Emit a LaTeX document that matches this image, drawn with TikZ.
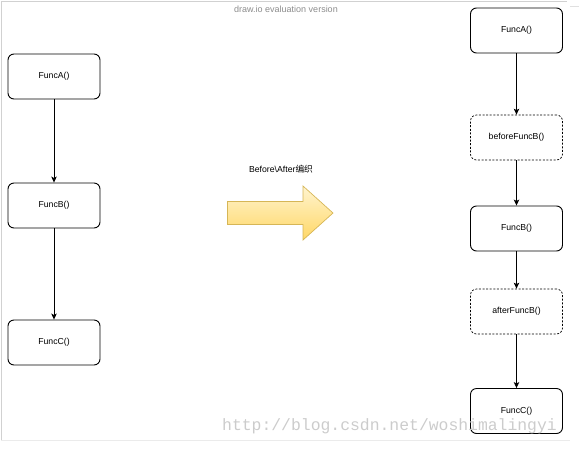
\documentclass[tikz,border=0pt]{standalone}
\usepackage{fontspec}
\setmainfont{Liberation Sans}
\newfontfamily\cjk{Noto Sans CJK SC}
\newfontfamily\wmfont{Liberation Mono}
\usetikzlibrary{arrows.meta}
\definecolor{arrowtop}{HTML}{FFF4CF}
\definecolor{arrowbot}{HTML}{FFD766}
\definecolor{arrowline}{HTML}{D6B656}

\begin{document}
\begin{tikzpicture}[x=1pt, y=-1pt,
    func/.style={draw, line width=0.9pt, rounded corners=6pt, minimum width=92pt, minimum height=45pt, font=\fontsize{8.7}{10}\selectfont},
    weave/.style={func, line width=0.7pt, dash pattern=on 2pt off 1.6pt},
    flow/.style={line width=0.8pt, -{Stealth[length=6pt, width=5.5pt, inset=1.5pt]}}]
    \useasboundingbox (0,0) rectangle (579,448);
    % frame of the page
    \draw[black!18] (1,440) -- (1,1.5) -- (567,1.5);
    \draw[black!12] (570,6) -- (579,6);
    \draw[black!8] (1,440) -- (570,440);
    \node[text=black!45, font=\fontsize{9}{10}\selectfont] (title) at (286,9.5) {draw.io evaluation version};
    % before weaving
    \node[func] (la) at (54,76.5) {FuncA()};
    \node[func] (lb) at (54,205.5) {FuncB()};
    \node[func] (lc) at (54,342.5) {FuncC()};
    \draw[flow] (la)--(lb);
    \draw[flow] (lb)--(lc);
    % weaving arrow
    \node[font=\fontsize{8.7}{10}\selectfont] (label) at (281,169) {Before\textbackslash After{\cjk 编织}};
    \draw[arrowline, line width=0.7pt, top color=arrowtop, bottom color=arrowbot]
      (227.5,201.5) -- (303,201.5) -- (303,186) -- (333,213) -- (303,240) -- (303,224.5) -- (227.5,224.5) -- cycle;
    % after weaving
    \node[func] (ra) at (516.5,30.5) {FuncA()};
    \node[weave] (rbefore) at (516.5,137.5) {beforeFuncB()};
    \node[func] (rb) at (516.5,228.5) {FuncB()};
    \node[weave] (rafter) at (516.5,311.5) {afterFuncB()};
    \node[func] (rc) at (516.5,411) {FuncC()};
    \draw[flow] (ra)--(rbefore);
    \draw[flow] (rbefore)--(rb);
    \draw[flow] (rb)--(rafter);
    \draw[flow] (rafter)--(rc);
    % watermark
    \node[anchor=base west, inner sep=0pt, text=black!20, font=\wmfont\fontsize{16.4}{18}\selectfont] (mark) at (222,430) {http://blog.csdn.net/woshimalingyi};
\end{tikzpicture}
\end{document}
